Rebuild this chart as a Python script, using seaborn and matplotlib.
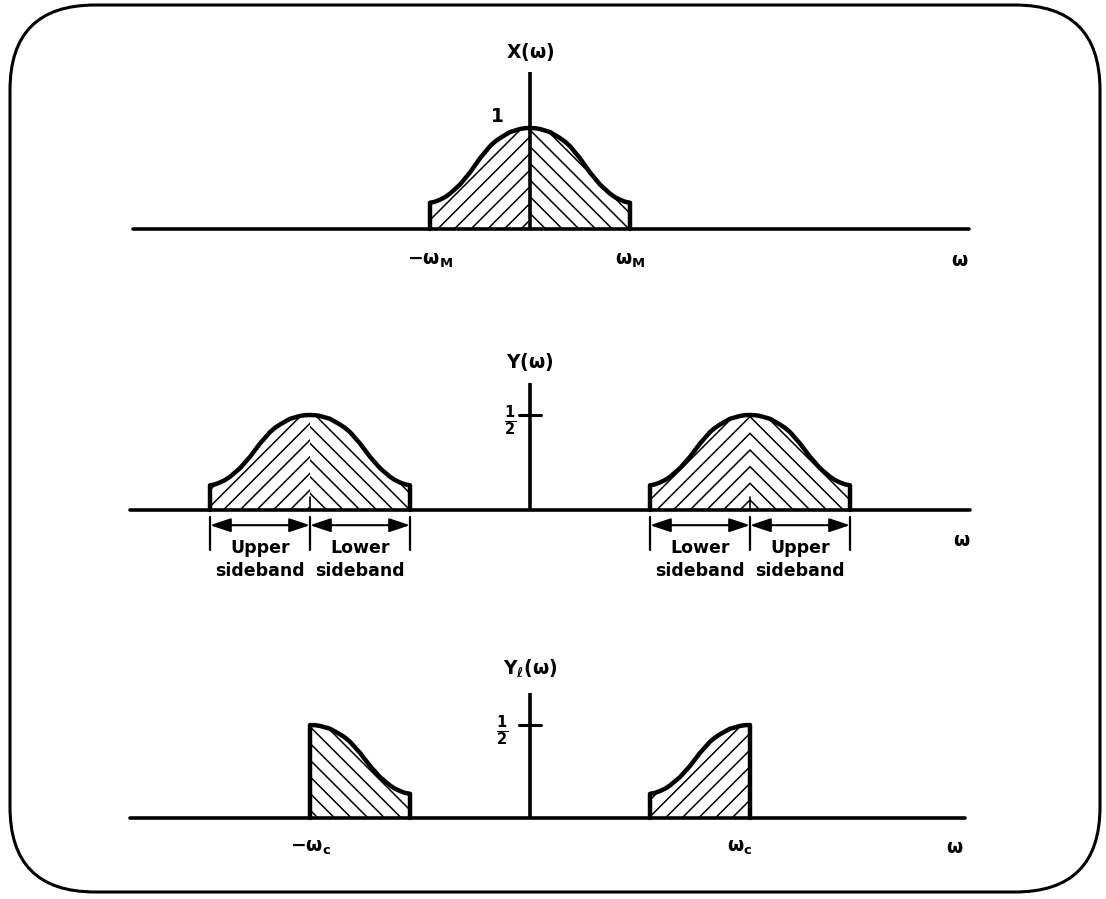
import matplotlib.pyplot as plt
import seaborn as sns
from matplotlib.patches import FancyBboxPatch

sns.set_theme(style="white")
plt.rcParams["font.family"] = ["DejaVu Sans"]
plt.rcParams["font.weight"] = "bold"
plt.rcParams["mathtext.fontset"] = "custom"
for k in ["rm", "it", "bf", "sf"]:
    plt.rcParams["mathtext." + k] = "DejaVu Sans:bold"
plt.rcParams["hatch.linewidth"] = 1.1
plt.rcParams["hatch.color"] = "black"

# --- data (frequency in units of w_M), X(w) ---
w = [-1.0, -0.95, -0.9, -0.85, -0.8, -0.75, -0.7, -0.65, -0.6, -0.55, -0.5,
     -0.45, -0.4, -0.35, -0.3, -0.25, -0.2, -0.15, -0.1, -0.05, 0.0,
     0.05, 0.1, 0.15, 0.2, 0.25, 0.3, 0.35, 0.4, 0.45, 0.5,
     0.55, 0.6, 0.65, 0.7, 0.75, 0.8, 0.85, 0.9, 0.95, 1.0]
X = [0.26, 0.27, 0.29, 0.315, 0.35, 0.395, 0.44, 0.50, 0.56, 0.63, 0.70,
     0.76, 0.82, 0.865, 0.90, 0.93, 0.96, 0.975, 0.99, 0.998, 1.00,
     0.998, 0.99, 0.975, 0.96, 0.93, 0.90, 0.865, 0.82, 0.76, 0.70,
     0.63, 0.56, 0.50, 0.44, 0.395, 0.35, 0.315, 0.29, 0.27, 0.26]
mid = 20  # index of w = 0
wM = 1.0
wc = 2.2
half = 0.5

W, H = 1106, 899
fig = plt.figure(figsize=(W / 100, H / 100), dpi=100)
fig.patch.set_facecolor("white")


def make_ax(top, bottom, base, scale):
    ax = fig.add_axes([0, 1 - bottom / H, 1, (bottom - top) / H])
    ax.set_xlim(-530 / 100, (W - 530) / 100)
    ax.set_ylim(-(bottom - base) / scale, (base - top) / scale)
    ax.axis("off")
    return ax


def axes_lines(ax, x0, x1, ytop):
    ax.plot([x0, x1], [0, 0], color="black", lw=2.6, solid_capstyle="round", clip_on=False)
    ax.plot([0, 0], [0, ytop], color="black", lw=2.6, solid_capstyle="butt", clip_on=False)


def band(ax, x, y, hatch):
    ax.fill_between(x, 0, y, facecolor="none", edgecolor="black", hatch=hatch, linewidth=0)


def outline(ax, x, y):
    xo = [x[0]] + list(x) + [x[-1]]
    yo = [0] + list(y) + [0]
    sns.lineplot(x=xo, y=yo, sort=False, estimator=None, color="black",
                 linewidth=3.2, ax=ax, clip_on=False)


txt = dict(fontsize=13.5, ha="center", va="center", color="black")
frac = dict(fontsize=15, ha="center", va="center", color="black")

# ---------- X(w) ----------
ax1 = make_ax(20, 300, 229, 101)
axes_lines(ax1, -3.97, 4.39, 1.55)
band(ax1, w[:mid + 1], X[:mid + 1], "//")
band(ax1, w[mid:], X[mid:], "\\\\")
outline(ax1, w, X)
ax1.text(0, 1.75, r"$X(\omega)$", **txt)
ax1.text(-0.33, 1.11, "1", **txt)
ax1.text(-wM, -0.31, r"$-\omega_M$", **txt)
ax1.text(wM, -0.31, r"$\omega_M$", **txt)
ax1.text(4.30, -0.31, r"$\omega$", **txt)

# ---------- Y(w) ----------
ax2 = make_ax(340, 600, 510, 190)
axes_lines(ax2, -4.0, 4.4, 0.668)
ax2.plot([-0.11, 0.11], [half, half], color="black", lw=2.2)
ax2.text(-0.2, 0.47, r"$\frac{1}{2}$", **frac)
ax2.text(0, 0.78, r"$Y(\omega)$", **txt)
ax2.text(4.32, -0.158, r"$\omega$", **txt)
Yh = [v * half for v in X]
for c, names in [(-wc, ("Upper", "Lower")), (wc, ("Lower", "Upper"))]:
    xs = [c + v for v in w]
    band(ax2, xs[:mid + 1], Yh[:mid + 1], "//")
    band(ax2, xs[mid:], Yh[mid:], "\\\\")
    outline(ax2, xs, Yh)
    ax2.plot([c, c], [0, 0.07], color="black", lw=1.2)
    edges = [c - wM, c, c + wM]
    for e in edges:
        ax2.plot([e, e], [-0.037, -0.21], color="black", lw=1.6)
    for (a, b), name in zip([(edges[0], edges[1]), (edges[1], edges[2])], names):
        ax2.annotate("", xy=(a, -0.08), xytext=(b, -0.08),
                     arrowprops=dict(arrowstyle="<|-|>,head_length=0.9,head_width=0.3",
                                     color="black", lw=1.5, shrinkA=0, shrinkB=0,
                                     mutation_scale=14))
        ax2.text((a + b) / 2, -0.155, name + "\nsideband", fontsize=12.5, ha="center",
                 va="top", color="black", linespacing=1.3)

# ---------- Y_l(w) ----------
ax3 = make_ax(640, 885, 818, 186)
axes_lines(ax3, -4.0, 4.35, 0.672)
ax3.plot([-0.11, 0.11], [half, half], color="black", lw=2.2)
ax3.text(-0.28, 0.47, r"$\frac{1}{2}$", **frac)
ax3.text(0, 0.806, r"$Y_\ell(\omega)$", **txt)
left_x = [-wc + v for v in w[mid:]]
right_x = [wc + v for v in w[:mid + 1]]
band(ax3, left_x, Yh[mid:], "\\\\")
outline(ax3, left_x, Yh[mid:])
band(ax3, right_x, Yh[:mid + 1], "//")
outline(ax3, right_x, Yh[:mid + 1])
ax3.text(-wc, -0.161, r"$-\omega_c$", **txt)
ax3.text(wc - 0.1, -0.161, r"$\omega_c$", **txt)
ax3.text(4.25, -0.161, r"$\omega$", **txt)

# rounded frame
frame = FancyBboxPatch((0.10, 0.07), 10.90, 8.87, boxstyle="round,pad=0,rounding_size=0.85",
                       transform=fig.dpi_scale_trans, fill=False, lw=2.2, ec="black")
fig.add_artist(frame)

fig.savefig("out.png", dpi=100)
